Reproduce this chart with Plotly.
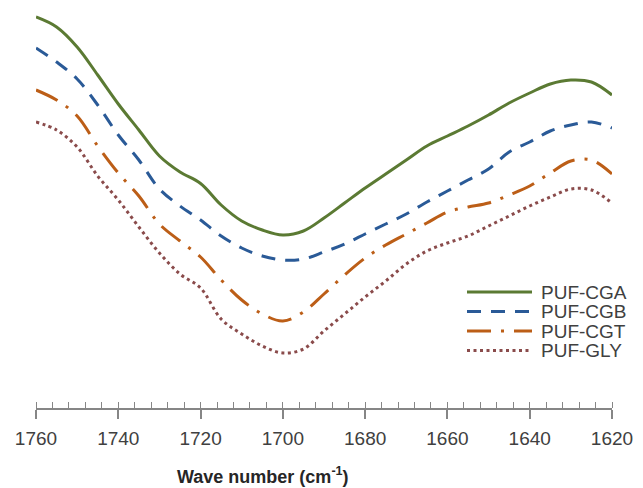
import plotly.graph_objects as go

# Wave numbers (cm-1)
wavenumber = [1760, 1755, 1750, 1745, 1740, 1735, 1730, 1725, 1720, 1715, 1710, 1705, 1700, 1695, 1690,
              1685, 1680, 1675, 1670, 1665, 1660, 1655, 1650, 1645, 1640, 1635, 1630, 1625, 1620]

# Relative transmittance (arbitrary units, no y scale shown)
puf_cga = [391, 381, 361, 333, 304, 278, 252, 236, 224.5, 203, 187, 178, 173, 177, 190,
           205, 220, 234, 248, 262, 272, 282, 293, 305, 315, 324, 328, 326, 313]
puf_cgb = [360, 346, 329, 303, 273, 248, 219, 202, 188, 172, 160, 152, 148, 149, 156,
           164, 174, 184, 194, 206, 217, 228, 239, 256, 266, 277, 283, 286, 280]
puf_cgt = [318, 308, 292, 262, 235, 212, 184, 167, 151, 128, 108, 94, 87, 96, 114,
           133, 150, 163, 174, 185, 196, 201, 205, 213, 222, 235, 247, 248, 234]
puf_gly = [286, 278, 261, 232, 208, 181, 155, 134, 120, 89, 74, 62, 55, 59, 77,
           94, 111, 127, 144, 157, 165, 172, 182, 192, 202, 211, 219, 218, 205]

names = ["PUF-CGA", "PUF-CGB", "PUF-CGT", "PUF-GLY"]
series = [puf_cga, puf_cgb, puf_cgt, puf_gly]
colors = ["#5B7A33", "#2A5A97", "#BC5E17", "#8A4B4B"]
dashes = ["solid", "14px,10px", "24px,10px,3px,10px", "3px,3.5px"]

W, H = 643, 488
ML, MR, MT, MB = 36, 31, 8, 80
PW, PH = W - ML - MR, H - MT - MB
FONT = "Liberation Sans, Arial, sans-serif"

fig = go.Figure()
for name, ys, c, d in zip(names, series, colors, dashes):
    fig.add_trace(go.Scatter(x=wavenumber, y=ys, mode="lines", name=name,
                             line=dict(color=c, width=3, dash=d, shape="spline", smoothing=1.0),
                             showlegend=False))

# manual legend (pixel layout converted to paper coords)
lx0, lx1, ltx = 467, 532, 539
ly0, lstep = 292, 19.5
for i, (name, c, d) in enumerate(zip(names, colors, dashes)):
    py = ly0 + i * lstep
    yp = (MT + PH - py) / PH
    fig.add_shape(type="line", xref="paper", yref="paper",
                  x0=(lx0 - ML) / PW, x1=(lx1 - ML) / PW, y0=yp, y1=yp,
                  line=dict(color=c, width=3, dash=d))
    fig.add_annotation(xref="paper", yref="paper", x=(ltx - ML) / PW, y=yp,
                       text=name, showarrow=False, xanchor="left", yanchor="middle",
                       font=dict(family=FONT, size=19, color="#404040"))

fig.add_annotation(xref="paper", yref="paper", x=(263 - ML) / PW, y=(MT + PH - 475) / PH,
                   text="<b>Wave number (cm<sup>-1</sup>)</b>", showarrow=False,
                   xanchor="center", yanchor="middle",
                   font=dict(family=FONT, size=18, color="#262626"))

fig.update_layout(
    width=W, height=H,
    margin=dict(l=ML, r=MR, t=MT, b=MB),
    plot_bgcolor="white", paper_bgcolor="white",
    xaxis=dict(range=[1760, 1620], tickmode="linear", tick0=1620, dtick=20,
               showgrid=False, zeroline=False, showline=True, linecolor="#868686", linewidth=1.5,
               ticks="outside", ticklen=9, tickwidth=1.5, tickcolor="#868686",
               minor=dict(ticks="inside", ticklen=6, tickwidth=1, tickcolor="#868686", dtick=4, tick0=1620,
                          showgrid=False),
               tickfont=dict(family=FONT, size=19, color="#404040"),
               ticklabelstandoff=3),
    xaxis2=dict(range=[1760, 1620], overlaying="x", anchor="y", side="bottom",
                tickmode="linear", tick0=1620, dtick=20, showgrid=False, zeroline=False,
                showline=False, ticks="inside", ticklen=9, tickwidth=1.5, tickcolor="#868686",
                showticklabels=False),
    yaxis=dict(range=[0, 400], visible=False, showgrid=False, zeroline=False),
)

fig.write_html("out.html")
